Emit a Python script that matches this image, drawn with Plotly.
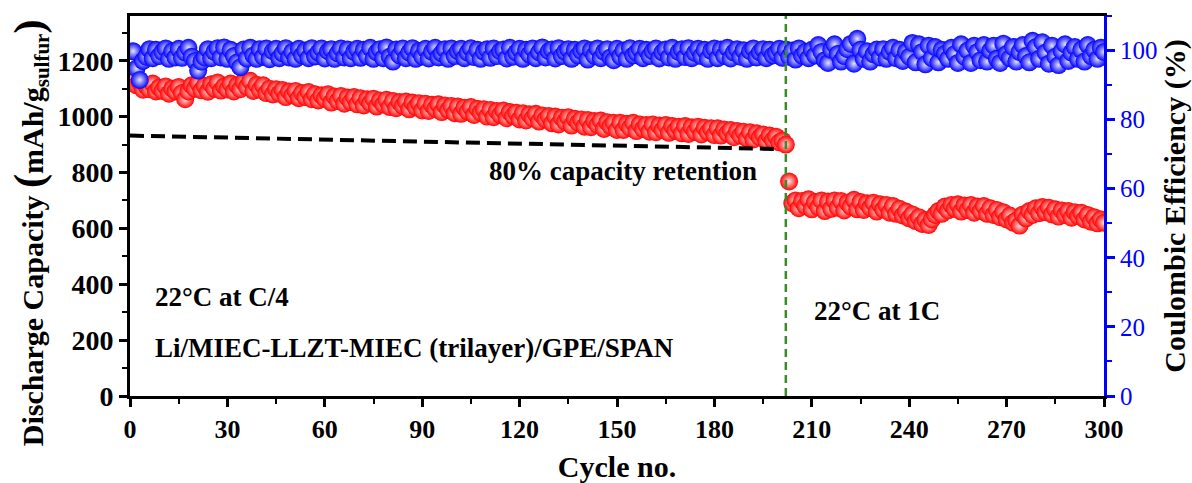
import plotly.graph_objects as go

# Cycle numbers (x axis)
cycles = list(range(1, 301))

# Discharge capacity, mAh/g(sulfur): cycles 1-202 at C/4, 203-300 at 1C
capacity = [
    1138, 1112, 1122, 1096, 1110, 1098, 1118, 1090, 1104, 1092,
    1108, 1082, 1100, 1090, 1106, 1084, 1062, 1090, 1112, 1100,
    1120, 1094, 1110, 1089, 1116, 1100, 1122, 1093, 1108, 1097,
    1118, 1090, 1112, 1098, 1124, 1106, 1128, 1092, 1114, 1096,
    1112, 1084, 1100, 1079, 1098, 1082, 1095, 1070, 1090, 1076,
    1092, 1066, 1084, 1070, 1088, 1062, 1080, 1058, 1076, 1064,
    1080, 1050, 1072, 1056, 1074, 1046, 1068, 1052, 1070, 1044,
    1066, 1040, 1062, 1048, 1064, 1036, 1058, 1044, 1060, 1034,
    1056, 1030, 1052, 1038, 1054, 1026, 1050, 1034, 1048, 1022,
    1046, 1020, 1042, 1028, 1044, 1016, 1040, 1024, 1038, 1012,
    1036, 1010, 1032, 1018, 1034, 1006, 1028, 1014, 1026, 1000,
    1024, 998, 1020, 1006, 1022, 994, 1016, 1002, 1014, 990,
    1012, 986, 1008, 994, 1010, 982, 1004, 990, 1002, 976,
    1000, 972, 996, 982, 998, 968, 992, 978, 990, 964,
    988, 962, 984, 970, 986, 956, 980, 966, 978, 952,
    978, 952, 974, 960, 978, 948, 972, 956, 970, 946,
    972, 944, 968, 952, 970, 942, 966, 950, 964, 940,
    966, 938, 962, 946, 964, 936, 960, 944, 958, 934,
    958, 932, 954, 940, 952, 926, 948, 932, 946, 922,
    944, 918, 940, 926, 936, 912, 932, 916, 928, 908,
    914, 900,
    768, 690,
    700, 672, 698, 680, 704, 668, 694, 676, 700, 662,
    696, 670, 700, 674, 698, 664, 692, 678, 702, 668,
    694, 666, 690, 674, 692, 660, 686, 668, 684, 656,
    680, 652, 670, 646, 660, 636, 650, 626, 640, 616,
    630, 612, 632, 648, 662, 652, 678, 664, 684, 670,
    686, 660, 682, 666, 684, 656, 678, 662, 680, 652,
    672, 648, 666, 640, 658, 632, 646, 620, 628, 610,
    650, 636, 662, 648, 672, 654, 676, 658, 674, 650,
    668, 642, 664, 648, 662, 638, 658, 644, 656, 632,
    648, 624, 640, 618, 632, 620,
]

# Coulombic efficiency, %
efficiency = [
    99.8, 94.8, 91.5, 97.0, 98.2, 100.4, 97.8, 100.2, 98.4, 99.6,
    100.6, 97.6, 99.8, 98.0, 100.5, 97.9, 99.4, 100.8, 98.2, 97.0,
    94.2, 96.8, 98.0, 100.4, 97.8, 99.6, 100.7, 98.0, 100.9, 97.6,
    100.2, 98.4, 96.6, 95.2, 100.3, 97.7, 100.8, 98.6, 97.6, 100.4,
    98.2, 100.6, 97.5, 99.8, 100.5, 97.8, 99.2, 100.7, 98.0, 99.6,
    97.6, 100.5, 98.6, 100.0, 97.8, 100.7, 98.3, 99.4, 100.6, 97.7,
    99.8, 100.4, 97.6, 99.2, 100.6, 98.0, 100.3, 97.8, 99.6, 100.5,
    97.9, 100.2, 98.4, 100.8, 97.6, 99.5, 100.4, 97.8, 100.9, 98.2,
    96.8, 100.3, 98.6, 100.6, 97.8, 99.4, 100.7, 97.6, 99.9, 98.3,
    100.5, 97.7, 99.6, 100.8, 98.0, 99.2, 100.4, 97.6, 100.6, 98.4,
    99.8, 100.5, 97.8, 99.4, 100.7, 98.1, 100.2, 97.6, 99.6, 100.4,
    97.9, 100.6, 98.4, 99.8, 100.3, 97.7, 100.8, 98.2, 99.4, 100.5,
    97.6, 100.2, 98.8, 100.6, 97.8, 99.5, 100.9, 98.0, 99.8, 100.3,
    97.7, 100.7, 98.4, 99.6, 100.4, 97.6, 100.2, 98.6, 99.9, 100.6,
    97.4, 100.1, 98.5, 100.6, 97.8, 99.6, 100.4, 98.0, 97.2, 100.5,
    98.3, 100.0, 97.6, 100.7, 98.6, 99.4, 100.5, 97.8, 100.2, 98.4,
    99.8, 100.6, 97.7, 99.5, 100.3, 98.0, 100.8, 97.6, 99.6, 100.4,
    98.1, 100.7, 97.8, 99.3, 100.5, 98.4, 100.2, 97.6, 99.9, 100.6,
    97.8, 100.3, 98.5, 100.8, 97.7, 99.4, 100.4, 98.2, 100.1, 97.6,
    99.8, 100.6, 98.0, 99.5, 100.4, 97.8, 100.2, 98.6, 99.3, 100.5,
    97.9, 100.3, 98.2, 100.0, 97.4, 100.6, 98.5, 99.6, 97.8, 100.2,
    98.6, 101.6, 99.6, 97.2, 96.4, 100.2, 101.8, 99.0, 96.8, 98.4,
    100.4, 101.9, 96.2, 103.4, 100.2, 97.6, 99.8, 96.8, 98.9, 100.3,
    98.0, 100.4, 97.6, 99.6, 100.8, 97.8, 100.2, 97.0, 99.6, 98.2,
    102.2, 96.6, 101.8, 99.6, 96.0, 101.4, 97.8, 101.0, 96.6, 100.2,
    99.1, 97.6, 100.8, 99.0, 96.4, 101.8, 98.2, 100.0, 96.4, 101.4,
    99.6, 97.2, 101.6, 96.8, 100.0, 101.4, 97.6, 96.4, 102.0, 99.0,
    97.8, 101.0, 96.8, 99.6, 101.6, 98.4, 96.6, 102.8, 101.0, 97.6,
    102.4, 99.4, 96.2, 101.4, 98.2, 95.8, 99.8, 101.8, 97.0, 99.4,
    101.0, 97.6, 100.2, 96.8, 101.6, 98.4, 100.2, 97.6, 100.8, 99.6,
]

# 80 % capacity-retention guide line
retention_cycles = [0, 200]
retention_capacity = [932, 884]

# Cycle at which the rate is switched from C/4 to 1C
rate_switch_cycle = 202

SERIF = "Times New Roman, Liberation Serif, Tinos, serif"

fig = go.Figure()

fig.add_trace(go.Scatter(
    x=cycles, y=capacity, mode="markers", yaxis="y",
    marker=dict(size=18, color="#ff0000",
                gradient=dict(type="radial", color="#ffe4e4"),
                line=dict(width=0)),
    showlegend=False,
))

fig.add_trace(go.Scatter(
    x=retention_cycles, y=retention_capacity, mode="lines", yaxis="y",
    line=dict(color="black", width=4, dash="14px,7px"),
    showlegend=False,
))

fig.add_trace(go.Scatter(
    x=cycles, y=efficiency, mode="markers", yaxis="y2",
    marker=dict(size=18, color="#0000ff",
                gradient=dict(type="radial", color="#e4e4ff"),
                line=dict(width=0)),
    showlegend=False,
))

axis_common = dict(
    showgrid=False, zeroline=False, ticks="outside",
    ticklen=8, tickwidth=3, linewidth=3,
)

fig.update_layout(
    width=1192, height=483,
    margin=dict(l=130, r=88, t=16, b=87, autoexpand=False),
    plot_bgcolor="white", paper_bgcolor="white",
    font=dict(family=SERIF, color="black"),
    xaxis=dict(
        **axis_common, range=[0, 300], tick0=0, dtick=30,
        linecolor="black", tickcolor="black", mirror=True,
        tickfont=dict(family=SERIF, size=26, weight="bold"),
        minor=dict(ticks="outside", ticklen=5, tickwidth=2, dtick=15,
                   tick0=0, tickcolor="black", showgrid=False),
        title=dict(text="Cycle no.", standoff=18,
                   font=dict(family=SERIF, size=30, weight="bold")),
        automargin=False,
    ),
    yaxis=dict(
        **axis_common, range=[0, 1360], tick0=0, dtick=200,
        linecolor="black", tickcolor="black",
        tickfont=dict(family=SERIF, size=28, weight="bold"),
        minor=dict(ticks="outside", ticklen=5, tickwidth=2, dtick=100,
                   tick0=0, tickcolor="black", showgrid=False),
        automargin=False,
    ),
    yaxis2=dict(
        **axis_common, range=[0, 110], tick0=0, dtick=20,
        overlaying="y", side="right", anchor="x",
        linecolor="#0000ff", tickcolor="#0000ff",
        tickfont=dict(family=SERIF, size=25, color="#0000ff"),
        minor=dict(ticks="outside", ticklen=5, tickwidth=2, dtick=10,
                   tick0=0, tickcolor="#0000ff", showgrid=False),
        title=dict(text="Coulombic Efficiency (%)", standoff=6,
                   font=dict(family=SERIF, size=30, weight="bold",
                             color="black")),
        automargin=False,
    ),
    shapes=[dict(
        type="line", xref="x", yref="paper",
        x0=rate_switch_cycle, x1=rate_switch_cycle, y0=0, y1=1,
        line=dict(color="#3a8a2a", width=2.5, dash="8px,5px"),
        layer="above",
    )],
    annotations=[
        # left axis title, set slightly below the plot centre
        dict(text="Discharge Capacity <span style='font-size:42px'>(</span>"
                  "mAh/g<sub>sulfur</sub><span style='font-size:42px'>)</span>",
             x=-0.103, y=0.43, xref="paper", yref="paper",
             xanchor="center", yanchor="middle", textangle=-90,
             showarrow=False,
             font=dict(family=SERIF, size=30, weight="bold")),
        dict(text="80% capacity retention", x=152, y=807, xref="x", yref="y",
             showarrow=False,
             font=dict(family=SERIF, size=27, weight="bold")),
        dict(text="22°C at C/4", x=7, y=354, xref="x", yref="y",
             xanchor="left", showarrow=False,
             font=dict(family=SERIF, size=27, weight="bold")),
        dict(text="Li/MIEC-LLZT-MIEC (trilayer)/GPE/SPAN", x=7, y=171,
             xref="x", yref="y", xanchor="left", showarrow=False,
             font=dict(family=SERIF, size=27, weight="bold")),
        dict(text="22°C at 1C", x=210, y=304, xref="x", yref="y",
             xanchor="left", showarrow=False,
             font=dict(family=SERIF, size=27, weight="bold")),
    ],
)

fig.write_html("out.html")
